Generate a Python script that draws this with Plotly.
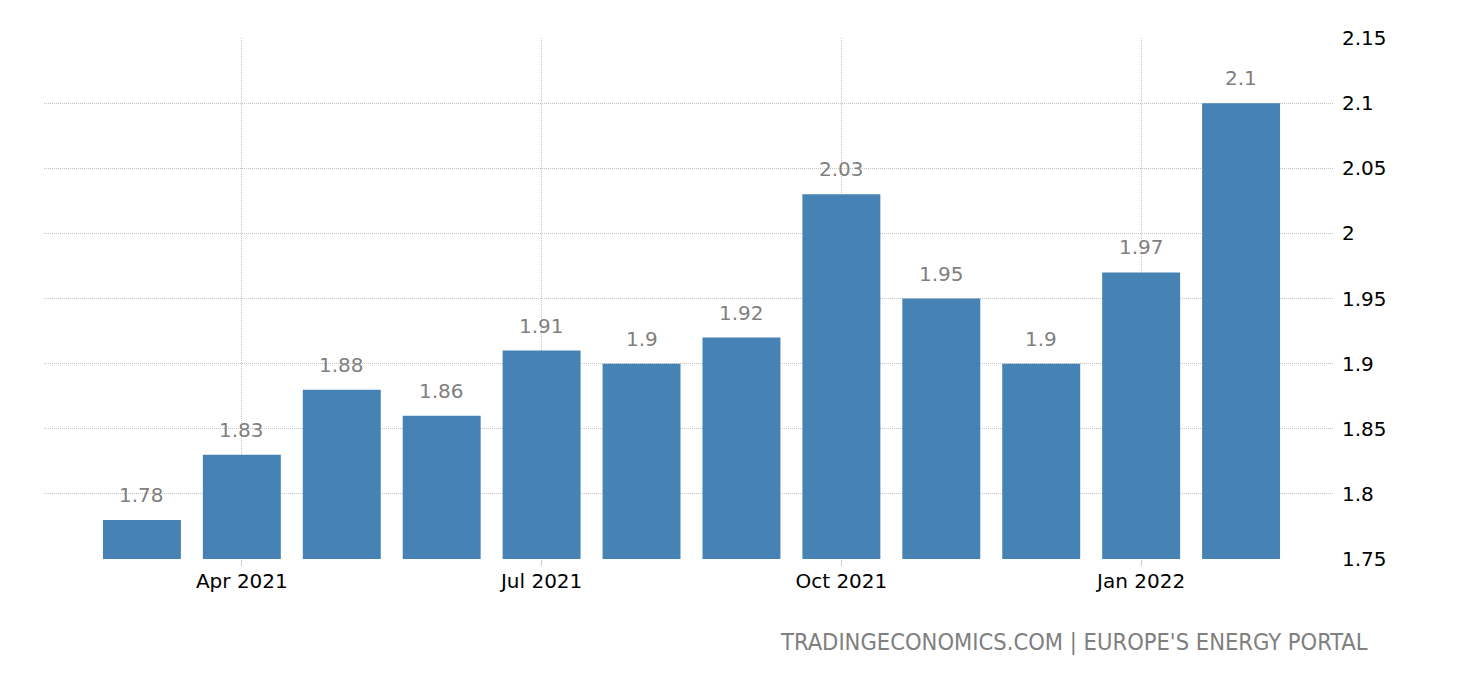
import plotly.graph_objects as go

months = ["Mar 2021", "Apr 2021", "May 2021", "Jun 2021", "Jul 2021", "Aug 2021",
          "Sep 2021", "Oct 2021", "Nov 2021", "Dec 2021", "Jan 2022", "Feb 2022"]
values = [1.78, 1.83, 1.88, 1.86, 1.91, 1.90, 1.92, 2.03, 1.95, 1.90, 1.97, 2.10]
value_labels = ["1.78", "1.83", "1.88", "1.86", "1.91", "1.9", "1.92", "2.03", "1.95", "1.9", "1.97", "2.1"]
tick_months = ["Apr 2021", "Jul 2021", "Oct 2021", "Jan 2022"]
y_ticks = [1.75, 1.8, 1.85, 1.9, 1.95, 2.0, 2.05, 2.1, 2.15]
y_tick_labels = ["1.75", "1.8", "1.85", "1.9", "1.95", "2", "2.05", "2.1", "2.15"]

xs = list(range(len(months)))
tick_pos = [months.index(m) for m in tick_months]

FONT = "DejaVu Sans"
FONT_NARROW = "DejaVu Sans Condensed, Liberation Sans Narrow, DejaVu Sans"
fig = go.Figure()
fig.add_trace(go.Bar(x=xs, y=values, width=0.78, marker=dict(color="#4682B4", line=dict(width=0)),
                     hoverinfo="skip"))

for x, v, t in zip(xs, values, value_labels):
    fig.add_annotation(x=x, y=v, text=t, showarrow=False, yshift=25, yanchor="middle",
                       font=dict(family=FONT, size=20, color="#7f7f7f"))

fig.add_annotation(xref="paper", yref="paper", x=1.0287, y=-0.159, xanchor="right", yanchor="middle",
                   text="TRADINGECONOMICS.COM | EUROPE'S ENERGY PORTAL", showarrow=False,
                   font=dict(family=FONT_NARROW, size=23.5, color="#808080"))

fig.update_layout(
    width=1460, height=680,
    margin=dict(l=36, r=135, t=30, b=129),
    plot_bgcolor="white", paper_bgcolor="white",
    showlegend=False,
    font=dict(family=FONT, size=20, color="black"),
    xaxis=dict(range=[-0.98, 11.92], tickmode="array", tickvals=tick_pos, ticktext=tick_months,
               showgrid=True, gridcolor="#c4c4c4", griddash="1px,1px", gridwidth=1,
               ticks="outside", ticklen=6, tickcolor="#cccccc", ticklabelstandoff=-2,
               showline=False, zeroline=False, tickfont=dict(family=FONT, size=20, color="black")),
    yaxis=dict(range=[1.75, 2.15], side="right", tickmode="array", tickvals=y_ticks, ticktext=y_tick_labels,
               showgrid=True, gridcolor="#c4c4c4", griddash="1px,1px", gridwidth=1,
               zeroline=False, showline=False, ticks="", ticklabelstandoff=8,
               tickfont=dict(family=FONT, size=20, color="black")),
)

fig.write_html("out.html")
